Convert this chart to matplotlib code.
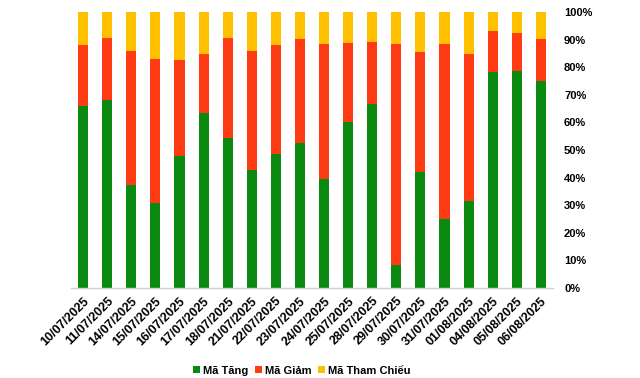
import numpy as np
import matplotlib
matplotlib.use("Agg")
import matplotlib.pyplot as plt
from matplotlib.ticker import PercentFormatter

plt.rcParams['font.family'] = ['Liberation Sans', 'DejaVu Sans']
plt.rcParams['font.weight'] = 'bold'

##data (percent of tickers)
dates = ["10/07/2025", "11/07/2025", "14/07/2025", "15/07/2025", "16/07/2025",
         "17/07/2025", "18/07/2025", "21/07/2025", "22/07/2025", "23/07/2025",
         "24/07/2025", "25/07/2025", "28/07/2025", "29/07/2025", "30/07/2025",
         "31/07/2025", "01/08/2025", "04/08/2025", "05/08/2025", "06/08/2025"]
ma_tang = [65.9, 68.1, 37.3, 30.8, 47.8, 63.4, 54.5, 42.8, 48.6, 52.5,
           39.5, 60.1, 66.7, 8.3, 42.0, 25.0, 31.5, 78.3, 78.6, 75.0]
# top of red segment (tang + giam)
tang_giam = [88.0, 90.6, 85.9, 83.0, 82.6, 84.8, 90.6, 85.9, 88.0, 90.2,
             88.4, 88.8, 89.1, 88.4, 85.5, 88.4, 84.8, 93.1, 92.4, 90.2]
ma_giam = [round(a - b, 1) for a, b in zip(tang_giam, ma_tang)]
ma_tc = [round(100 - a, 1) for a in tang_giam]

c_tang = '#0B8A12'
c_giam = '#FF3B14'
c_tc = '#FFC000'

fig = plt.figure(figsize=(6.4, 3.78), dpi=100)
ax = fig.add_axes([0.111, 0.238, 0.753, 0.730])

x = np.arange(len(dates))
w = 0.42
ax.bar(x, ma_tang, w, color=c_tang, label='Mã Tăng')
ax.bar(x, ma_giam, w, bottom=ma_tang, color=c_giam, label='Mã Giảm')
ax.bar(x, ma_tc, w, bottom=tang_giam, color=c_tc, label='Mã Tham Chiếu')

ax.set_xlim(-0.5, len(dates) - 0.5)
ax.set_ylim(0, 100)
ax.set_yticks(np.arange(0, 101, 10))
ax.yaxis.set_major_formatter(PercentFormatter(decimals=0))
ax.yaxis.tick_right()
ax.tick_params(axis='y', length=0, labelsize=8, pad=8)
ax.set_xticks(x)
ax.set_xticklabels(dates, rotation=45, ha='right', rotation_mode='anchor', fontsize=9)
ax.tick_params(axis='x', length=0, pad=5)

for s in ['top', 'left', 'right']:
    ax.spines[s].set_visible(False)
ax.spines['bottom'].set_color('#d0d0d0')
ax.spines['bottom'].set_linewidth(1.0)

leg = fig.legend(loc='lower center', bbox_to_anchor=(0.472, -0.02), ncol=3, frameon=False,
                 fontsize=8, handlelength=0.6, handleheight=0.6, handletextpad=0.3,
                 columnspacing=0.6)

fig.savefig('out.png', dpi=100)
